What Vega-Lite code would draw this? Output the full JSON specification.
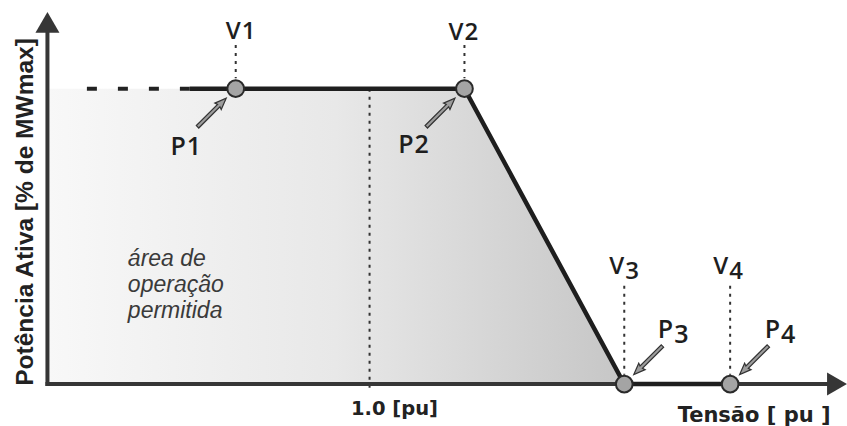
{
  "$schema": "https://vega.github.io/schema/vega-lite/v6.json",
  "width": 847,
  "height": 426,
  "padding": 0,
  "autosize": {"type": "fit", "contains": "padding"},
  "background": "white",
  "config": {"view": {"stroke": null}},
  "datasets": {
    "nodes": [
      {"id": "P1", "x": 0.866, "y": 100},
      {"id": "P2", "x": 1.095, "y": 100},
      {"id": "P3", "x": 1.255, "y": 0},
      {"id": "P4", "x": 1.361, "y": 0}
    ],
    "labels": [
      {"k": "V", "n": "1", "x": 0.871, "y": 116.86},
      {"k": "V", "n": "2", "x": 1.094, "y": 116.53},
      {"k": "V", "n": "3", "x": 1.255, "y": 37.38},
      {"k": "V", "n": "4", "x": 1.359, "y": 37.38},
      {"k": "P", "n": "1", "x": 0.816, "y": 77.46},
      {"k": "P", "n": "2", "x": 1.044, "y": 78.13},
      {"k": "P", "n": "3", "x": 1.304, "y": 15.48},
      {"k": "P", "n": "4", "x": 1.411, "y": 15.48}
    ]
  },
  "encoding": {
    "x": {"field": "x", "type": "quantitative", "scale": {"domain": [0.63, 1.477], "nice": false, "zero": false}, "axis": null},
    "y": {"field": "y", "type": "quantitative", "scale": {"domain": [-13.5, 130], "nice": false, "zero": false}, "axis": null}
  },
  "layer": [
    {
      "data": {"values": [{"x": 0.6775, "y": 100}, {"x": 1.095, "y": 100}, {"x": 1.255, "y": 0}]},
      "mark": {"type": "area", "fill": {"gradient": "linear", "x1": 0, "y1": 0, "x2": 1, "y2": 0, "stops": [{"offset": 0, "color": "#f8f8f8"}, {"offset": 0.5, "color": "#e8e8e8"}, {"offset": 1, "color": "#c6c6c6"}]}, "opacity": 1},
      "encoding": {"y2": {"datum": 0}}
    },
    {
      "data": {"values": [
        {"x": 1.0, "y": 100, "y2": -2.4},
        {"x": 0.866, "y": 114.8, "y2": 103.5},
        {"x": 1.095, "y": 114.8, "y2": 103.5},
        {"x": 1.255, "y": 33.3, "y2": 3.2},
        {"x": 1.361, "y": 33.3, "y2": 3.2}
      ]},
      "mark": {"type": "rule", "stroke": "#333333", "strokeWidth": 2, "strokeDash": [3, 5]},
      "encoding": {"y2": {"field": "y2"}}
    },
    {
      "data": {"values": [
        {"x": 0.6775, "y": 0, "x2": 0.6775, "y2": 120.5},
        {"x": 0.6775, "y": 0, "x2": 1.466, "y2": 0}
      ]},
      "mark": {"type": "rule", "stroke": "#363636", "strokeWidth": 4, "strokeCap": "square"},
      "encoding": {"x2": {"field": "x2"}, "y2": {"field": "y2"}}
    },
    {
      "data": {"values": [{"x": 0.6775, "y": 122.46}]},
      "mark": {"type": "point", "shape": "triangle-up", "size": 576, "filled": true, "color": "#363636", "opacity": 1}
    },
    {
      "data": {"values": [{"x": 1.468, "y": 0}]},
      "mark": {"type": "point", "shape": "triangle-right", "size": 529, "filled": true, "color": "#363636", "opacity": 1}
    },
    {
      "data": {"values": [{"x": 0.717, "y": 100, "x2": 0.82}]},
      "mark": {"type": "rule", "stroke": "#222222", "strokeWidth": 4, "strokeDash": [10, 21]},
      "encoding": {"x2": {"field": "x2"}}
    },
    {
      "data": {"values": [{"x": 0.82, "y": 100}, {"x": 1.095, "y": 100}, {"x": 1.255, "y": 0}, {"x": 1.361, "y": 0}]},
      "mark": {"type": "line", "stroke": "#1e1e1e", "strokeWidth": 4.5}
    },
    {
      "data": {"name": "nodes"},
      "mark": {"type": "circle", "size": 280, "fill": "#a4a4a4", "stroke": "#2a2a2a", "strokeWidth": 2, "opacity": 1}
    },
    {
      "data": {"name": "nodes"},
      "transform": [{"filter": "datum.y > 50"}],
      "mark": {"type": "point", "shape": "M0,1.35 L0.45,2.5 L0.17,2.4 L0.17,5.4 L-0.17,5.4 L-0.17,2.4 L-0.45,2.5 Z", "size": 400, "angle": 45, "filled": true, "fill": "#9c9c9c", "stroke": "#333333", "strokeWidth": 1.2, "opacity": 1}
    },
    {
      "data": {"name": "nodes"},
      "transform": [{"filter": "datum.y < 50"}],
      "mark": {"type": "point", "shape": "M0,1.35 L0.45,2.5 L0.17,2.4 L0.17,5.4 L-0.17,5.4 L-0.17,2.4 L-0.45,2.5 Z", "size": 400, "angle": 225, "filled": true, "fill": "#9c9c9c", "stroke": "#333333", "strokeWidth": 1.2, "opacity": 1}
    },
    {
      "data": {"name": "labels"},
      "mark": {"type": "text", "align": "right", "baseline": "alphabetic", "font": "Open Sans", "fontWeight": 600, "color": "#1e1e1e"},
      "encoding": {
        "text": {"field": "k"},
        "size": {"field": "k", "type": "nominal", "scale": {"domain": ["V", "P"], "range": [24, 25]}, "legend": null}
      }
    },
    {
      "data": {"name": "labels"},
      "transform": [{"filter": "datum.n == '1' || datum.n == '2'"}],
      "mark": {"type": "text", "align": "left", "baseline": "alphabetic", "font": "Open Sans", "fontWeight": 600, "color": "#1e1e1e", "dx": 1},
      "encoding": {
        "text": {"field": "n"},
        "size": {"field": "k", "type": "nominal", "scale": {"domain": ["V", "P"], "range": [17, 18]}, "legend": null}
      }
    },
    {
      "data": {"name": "labels"},
      "transform": [{"filter": "datum.n == '3' || datum.n == '4'"}],
      "mark": {"type": "text", "align": "left", "baseline": "alphabetic", "font": "Open Sans", "fontWeight": 600, "color": "#1e1e1e", "dx": 1, "dy": 5},
      "encoding": {
        "text": {"field": "n"},
        "size": {"field": "k", "type": "nominal", "scale": {"domain": ["V", "P"], "range": [24, 27]}, "legend": null}
      }
    },
    {
      "data": {"values": [{"t": "1.0 [pu]", "x": 1.025, "y": -10.45}]},
      "mark": {"type": "text", "align": "center", "baseline": "alphabetic", "font": "DejaVu Sans", "fontWeight": "bold", "fontSize": 19.5, "color": "#222222"},
      "encoding": {"text": {"field": "t"}}
    },
    {
      "data": {"values": [{"t": "Tensão [ pu ]", "x": 1.385, "y": -12.8}]},
      "mark": {"type": "text", "align": "center", "baseline": "alphabetic", "font": "DejaVu Sans", "fontWeight": "bold", "fontSize": 21, "color": "#222222"},
      "encoding": {"text": {"field": "t"}}
    },
    {
      "data": {"values": [{"t": "Potência Ativa [% de MWmax]", "x": 0.663, "y": 58.26}]},
      "mark": {"type": "text", "align": "center", "baseline": "alphabetic", "angle": 270, "font": "Liberation Sans", "fontWeight": "bold", "fontSize": 24.5, "color": "#222222"},
      "encoding": {"text": {"field": "t"}}
    },
    {
      "data": {"values": [{"t": "área de\noperação\npermitida", "x": 0.758, "y": 40.07}]},
      "mark": {"type": "text", "align": "left", "baseline": "alphabetic", "lineBreak": "\n", "lineHeight": 26, "font": "Liberation Sans", "fontStyle": "italic", "fontSize": 23, "color": "#3a3a3a"},
      "encoding": {"text": {"field": "t"}}
    }
  ]
}
